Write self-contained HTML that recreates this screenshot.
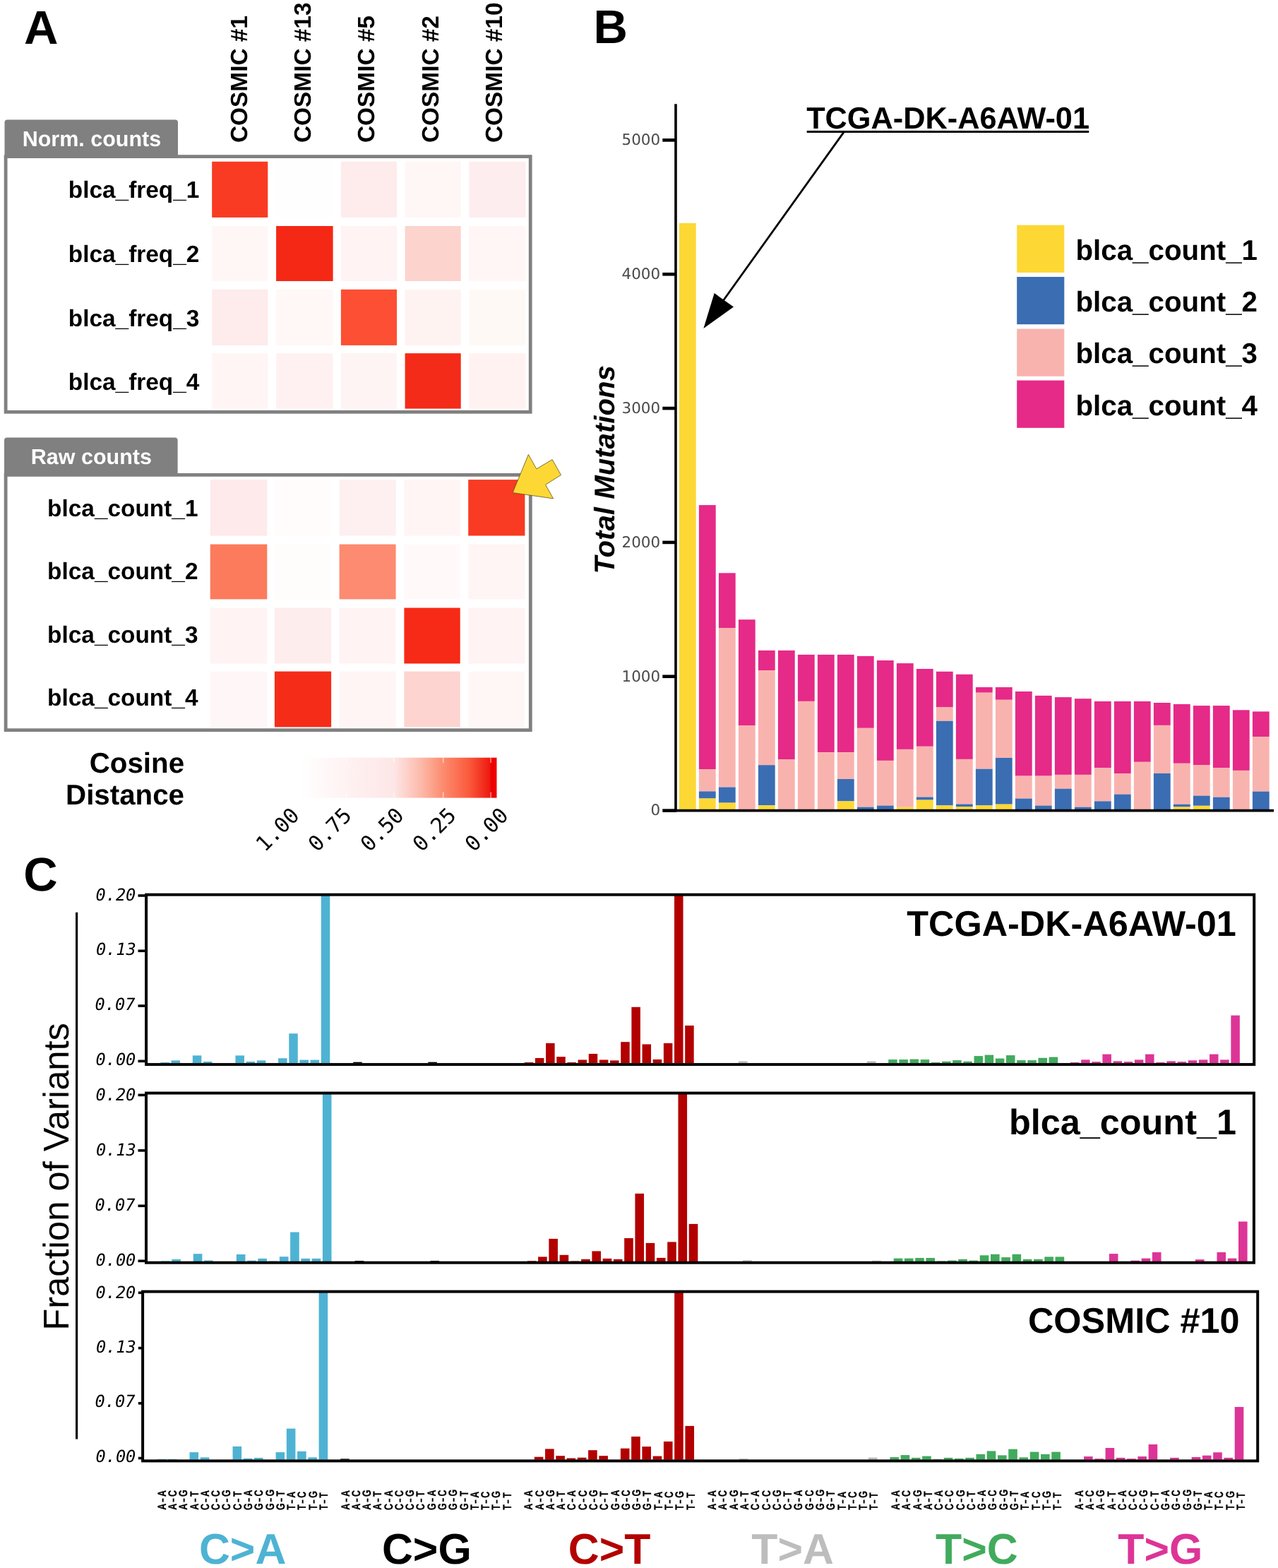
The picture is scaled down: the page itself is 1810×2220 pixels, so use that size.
<!DOCTYPE html>
<html><head><meta charset="utf-8"><title>Figure</title>
<style>html,body{margin:0;padding:0;background:#fff;} svg{display:block;} text{text-rendering:geometricPrecision;}</style>
</head><body>
<svg width="1810" height="2220" viewBox="0 0 1810 2220">
<rect x="0" y="0" width="1810" height="2220" fill="#fff"/>
<text x="34.12" y="61.75" font-family='"Liberation Sans", Arial, sans-serif' font-weight="bold" font-style="normal" font-size="67.00" fill="#000" >A</text>
<text transform="translate(349.90,202.04) rotate(-90)" x="0" y="0" font-family='"Liberation Sans", Arial, sans-serif' font-weight="bold" font-style="normal" font-size="33.40" fill="#000">COSMIC #1</text>
<text transform="translate(440.10,202.04) rotate(-90)" x="0" y="0" font-family='"Liberation Sans", Arial, sans-serif' font-weight="bold" font-style="normal" font-size="33.40" fill="#000">COSMIC #13</text>
<text transform="translate(530.40,202.04) rotate(-90)" x="0" y="0" font-family='"Liberation Sans", Arial, sans-serif' font-weight="bold" font-style="normal" font-size="33.40" fill="#000">COSMIC #5</text>
<text transform="translate(620.80,202.04) rotate(-90)" x="0" y="0" font-family='"Liberation Sans", Arial, sans-serif' font-weight="bold" font-style="normal" font-size="33.40" fill="#000">COSMIC #2</text>
<text transform="translate(711.00,202.04) rotate(-90)" x="0" y="0" font-family='"Liberation Sans", Arial, sans-serif' font-weight="bold" font-style="normal" font-size="33.40" fill="#000">COSMIC #10</text>
<path d="M6.5,221 L6.5,173.6 Q6.5,169.6 10.5,169.6 L248,169.6 Q252,169.6 252,173.6 L252,221 Z" fill="#808080"/>
<text x="31.64" y="206.50" font-family='"Liberation Sans", Arial, sans-serif' font-weight="bold" font-style="normal" font-size="30.50" fill="#fff" >Norm. counts</text>
<rect x="8.10" y="221.60" width="743.10" height="361.70" fill="none" stroke="#808080" stroke-width="4.8"/>
<rect x="300.20" y="228.80" width="79.10" height="79.10" fill="#F83B22" />
<rect x="391.10" y="228.80" width="80.50" height="79.10" fill="#FEFEFE" />
<rect x="482.90" y="228.80" width="79.10" height="79.10" fill="#FEEBEB" />
<rect x="573.60" y="228.80" width="79.10" height="79.10" fill="#FFF7F6" />
<rect x="664.30" y="228.80" width="80.20" height="79.10" fill="#FEEDEE" />
<rect x="300.20" y="320.00" width="79.10" height="78.00" fill="#FFF6F6" />
<rect x="391.10" y="320.00" width="80.50" height="78.00" fill="#F52816" />
<rect x="482.90" y="320.00" width="79.10" height="78.00" fill="#FFF3F3" />
<rect x="573.60" y="320.00" width="79.10" height="78.00" fill="#FDD3CE" />
<rect x="664.30" y="320.00" width="80.20" height="78.00" fill="#FFF6F5" />
<rect x="300.20" y="409.80" width="79.10" height="79.10" fill="#FEEBEC" />
<rect x="391.10" y="409.80" width="80.50" height="79.10" fill="#FFF8F7" />
<rect x="482.90" y="409.80" width="79.10" height="79.10" fill="#FC4F33" />
<rect x="573.60" y="409.80" width="79.10" height="79.10" fill="#FFF3F2" />
<rect x="664.30" y="409.80" width="80.20" height="79.10" fill="#FFF9F6" />
<rect x="300.20" y="500.20" width="79.10" height="78.40" fill="#FFF5F4" />
<rect x="391.10" y="500.20" width="80.50" height="78.40" fill="#FFF1F1" />
<rect x="482.90" y="500.20" width="79.10" height="78.40" fill="#FFF4F4" />
<rect x="573.60" y="500.20" width="79.10" height="78.40" fill="#F42B18" />
<rect x="664.30" y="500.20" width="80.20" height="78.40" fill="#FFF2F1" />
<text x="96.80" y="280.30" font-family='"Liberation Sans", Arial, sans-serif' font-weight="bold" font-style="normal" font-size="33.40" fill="#000">blca_freq_1</text>
<text x="96.80" y="370.90" font-family='"Liberation Sans", Arial, sans-serif' font-weight="bold" font-style="normal" font-size="33.40" fill="#000">blca_freq_2</text>
<text x="96.80" y="461.50" font-family='"Liberation Sans", Arial, sans-serif' font-weight="bold" font-style="normal" font-size="33.40" fill="#000">blca_freq_3</text>
<text x="96.80" y="552.10" font-family='"Liberation Sans", Arial, sans-serif' font-weight="bold" font-style="normal" font-size="33.40" fill="#000">blca_freq_4</text>
<path d="M6.0,671 L6.0,623.6 Q6.0,619.6 10.0,619.6 L247.6,619.6 Q251.6,619.6 251.6,623.6 L251.6,671 Z" fill="#808080"/>
<text x="43.74" y="656.50" font-family='"Liberation Sans", Arial, sans-serif' font-weight="bold" font-style="normal" font-size="30.50" fill="#fff" >Raw counts</text>
<rect x="8.10" y="672.40" width="743.20" height="361.30" fill="none" stroke="#808080" stroke-width="4.8"/>
<rect x="297.70" y="679.10" width="80.60" height="79.40" fill="#FEEAEA" />
<rect x="388.90" y="679.10" width="80.20" height="79.40" fill="#FFFCFB" />
<rect x="480.60" y="679.10" width="80.00" height="79.40" fill="#FEF0F0" />
<rect x="572.40" y="679.10" width="79.30" height="79.40" fill="#FFF5F4" />
<rect x="663.20" y="679.10" width="80.20" height="79.40" fill="#F83B22" />
<rect x="297.70" y="770.60" width="80.60" height="77.80" fill="#FC7B5C" />
<rect x="388.90" y="770.60" width="80.20" height="77.80" fill="#FFFCFC" />
<rect x="480.60" y="770.60" width="80.00" height="77.80" fill="#FC8B71" />
<rect x="572.40" y="770.60" width="79.30" height="77.80" fill="#FFFAF9" />
<rect x="663.20" y="770.60" width="80.20" height="77.80" fill="#FFF5F4" />
<rect x="297.70" y="860.60" width="80.60" height="78.90" fill="#FFF4F3" />
<rect x="388.90" y="860.60" width="80.20" height="78.90" fill="#FDEDEC" />
<rect x="480.60" y="860.60" width="80.00" height="78.90" fill="#FFF3F3" />
<rect x="572.40" y="860.60" width="79.30" height="78.90" fill="#F62A16" />
<rect x="663.20" y="860.60" width="80.20" height="78.90" fill="#FFF3F3" />
<rect x="297.70" y="950.60" width="80.60" height="78.80" fill="#FFF7F7" />
<rect x="388.90" y="950.60" width="80.20" height="78.80" fill="#F52D18" />
<rect x="480.60" y="950.60" width="80.00" height="78.80" fill="#FFF5F5" />
<rect x="572.40" y="950.60" width="79.30" height="78.80" fill="#FDD4CF" />
<rect x="663.20" y="950.60" width="80.20" height="78.80" fill="#FFF7F6" />
<text x="67.09" y="730.60" font-family='"Liberation Sans", Arial, sans-serif' font-weight="bold" font-style="normal" font-size="33.40" fill="#000">blca_count_1</text>
<text x="67.09" y="820.00" font-family='"Liberation Sans", Arial, sans-serif' font-weight="bold" font-style="normal" font-size="33.40" fill="#000">blca_count_2</text>
<text x="67.09" y="909.50" font-family='"Liberation Sans", Arial, sans-serif' font-weight="bold" font-style="normal" font-size="33.40" fill="#000">blca_count_3</text>
<text x="67.09" y="998.90" font-family='"Liberation Sans", Arial, sans-serif' font-weight="bold" font-style="normal" font-size="33.40" fill="#000">blca_count_4</text>
<polygon points="726.1,697.6 748.4,643.5 759.8,663.9 782.2,650.7 794.5,672.5 772.6,686.3 783.6,705.9" fill="#FDD835" stroke="#5a5020" stroke-width="0.8" stroke-linejoin="miter"/>
<text x="126.71" y="1094.40" font-family='"Liberation Sans", Arial, sans-serif' font-weight="bold" font-style="normal" font-size="40.30" fill="#000" >Cosine</text>
<text x="93.06" y="1139.30" font-family='"Liberation Sans", Arial, sans-serif' font-weight="bold" font-style="normal" font-size="40.30" fill="#000" >Distance</text>
<defs><linearGradient id="cbar" x1="424" y1="0" x2="703.5" y2="0" gradientUnits="userSpaceOnUse">
<stop offset="0" stop-color="#FFFFFF"/>
<stop offset="0.06" stop-color="#FFFCFC"/>
<stop offset="0.24" stop-color="#FFF2F2"/>
<stop offset="0.48" stop-color="#FDE6E6"/>
<stop offset="0.62" stop-color="#FCB8A8"/>
<stop offset="0.73" stop-color="#FC8B6E"/>
<stop offset="0.86" stop-color="#FA5A3C"/>
<stop offset="0.965" stop-color="#EE1A10"/>
<stop offset="0.97" stop-color="#EE0000"/>
<stop offset="1" stop-color="#EE0000"/>
</linearGradient></defs>
<rect x="424.00" y="1072.70" width="279.50" height="56.90" fill="url(#cbar)" />
<line x1="490.60" y1="1072.70" x2="490.60" y2="1080.00" stroke="#fff" stroke-width="1.6" stroke-opacity="0.55"/>
<line x1="490.60" y1="1121.50" x2="490.60" y2="1129.60" stroke="#fff" stroke-width="1.6" stroke-opacity="0.55"/>
<line x1="558.00" y1="1072.70" x2="558.00" y2="1080.00" stroke="#fff" stroke-width="1.6" stroke-opacity="0.55"/>
<line x1="558.00" y1="1121.50" x2="558.00" y2="1129.60" stroke="#fff" stroke-width="1.6" stroke-opacity="0.55"/>
<line x1="627.70" y1="1072.70" x2="627.70" y2="1080.00" stroke="#fff" stroke-width="1.6" stroke-opacity="0.55"/>
<line x1="627.70" y1="1121.50" x2="627.70" y2="1129.60" stroke="#fff" stroke-width="1.6" stroke-opacity="0.55"/>
<line x1="695.10" y1="1072.70" x2="695.10" y2="1080.00" stroke="#fff" stroke-width="1.6" stroke-opacity="0.55"/>
<line x1="695.10" y1="1121.50" x2="695.10" y2="1129.60" stroke="#fff" stroke-width="1.6" stroke-opacity="0.55"/>
<text transform="translate(374.95,1207.28) rotate(-45)" x="0" y="0" font-family='"DejaVu Sans Mono", monospace' font-weight="normal" font-style="normal" font-size="29.90" fill="#000">1.00</text>
<text transform="translate(448.95,1207.28) rotate(-45)" x="0" y="0" font-family='"DejaVu Sans Mono", monospace' font-weight="normal" font-style="normal" font-size="29.90" fill="#000">0.75</text>
<text transform="translate(522.95,1207.28) rotate(-45)" x="0" y="0" font-family='"DejaVu Sans Mono", monospace' font-weight="normal" font-style="normal" font-size="29.90" fill="#000">0.50</text>
<text transform="translate(596.95,1207.28) rotate(-45)" x="0" y="0" font-family='"DejaVu Sans Mono", monospace' font-weight="normal" font-style="normal" font-size="29.90" fill="#000">0.25</text>
<text transform="translate(670.95,1207.28) rotate(-45)" x="0" y="0" font-family='"DejaVu Sans Mono", monospace' font-weight="normal" font-style="normal" font-size="29.90" fill="#000">0.00</text>
<text x="840.48" y="61.06" font-family='"Liberation Sans", Arial, sans-serif' font-weight="bold" font-style="normal" font-size="67.00" fill="#000" >B</text>
<rect x="961.90" y="315.90" width="23.80" height="830.70" fill="#FDD835" />
<rect x="989.90" y="715.10" width="23.80" height="373.90" fill="#E52A88" />
<rect x="989.90" y="1089.00" width="23.80" height="31.40" fill="#F9B3AE" />
<rect x="989.90" y="1120.40" width="23.80" height="10.10" fill="#3B6DB3" />
<rect x="989.90" y="1130.50" width="23.80" height="16.10" fill="#FDD835" />
<rect x="1017.90" y="811.30" width="23.80" height="77.80" fill="#E52A88" />
<rect x="1017.90" y="889.10" width="23.80" height="225.40" fill="#F9B3AE" />
<rect x="1017.90" y="1114.50" width="23.80" height="22.10" fill="#3B6DB3" />
<rect x="1017.90" y="1136.60" width="23.80" height="10.00" fill="#FDD835" />
<rect x="1045.90" y="877.20" width="23.80" height="149.80" fill="#E52A88" />
<rect x="1045.90" y="1027.00" width="23.80" height="119.60" fill="#F9B3AE" />
<rect x="1073.90" y="920.90" width="23.80" height="28.10" fill="#E52A88" />
<rect x="1073.90" y="949.00" width="23.80" height="134.20" fill="#F9B3AE" />
<rect x="1073.90" y="1083.20" width="23.80" height="57.00" fill="#3B6DB3" />
<rect x="1073.90" y="1140.20" width="23.80" height="6.40" fill="#FDD835" />
<rect x="1101.90" y="920.90" width="23.80" height="154.10" fill="#E52A88" />
<rect x="1101.90" y="1075.00" width="23.80" height="71.60" fill="#F9B3AE" />
<rect x="1129.90" y="926.90" width="23.80" height="66.00" fill="#E52A88" />
<rect x="1129.90" y="992.90" width="23.80" height="153.70" fill="#F9B3AE" />
<rect x="1157.90" y="926.90" width="23.80" height="138.30" fill="#E52A88" />
<rect x="1157.90" y="1065.20" width="23.80" height="81.40" fill="#F9B3AE" />
<rect x="1185.90" y="926.90" width="23.80" height="138.30" fill="#E52A88" />
<rect x="1185.90" y="1065.20" width="23.80" height="37.80" fill="#F9B3AE" />
<rect x="1185.90" y="1103.00" width="23.80" height="31.40" fill="#3B6DB3" />
<rect x="1185.90" y="1134.40" width="23.80" height="12.20" fill="#FDD835" />
<rect x="1213.90" y="928.90" width="23.80" height="101.90" fill="#E52A88" />
<rect x="1213.90" y="1030.80" width="23.80" height="111.90" fill="#F9B3AE" />
<rect x="1213.90" y="1142.70" width="23.80" height="3.90" fill="#3B6DB3" />
<rect x="1241.90" y="935.00" width="23.80" height="141.90" fill="#E52A88" />
<rect x="1241.90" y="1076.90" width="23.80" height="63.70" fill="#F9B3AE" />
<rect x="1241.90" y="1140.60" width="23.80" height="6.00" fill="#3B6DB3" />
<rect x="1269.90" y="939.10" width="23.80" height="121.80" fill="#E52A88" />
<rect x="1269.90" y="1060.90" width="23.80" height="81.80" fill="#F9B3AE" />
<rect x="1269.90" y="1142.70" width="23.80" height="3.90" fill="#FDD835" />
<rect x="1297.90" y="947.00" width="23.80" height="109.80" fill="#E52A88" />
<rect x="1297.90" y="1056.80" width="23.80" height="71.70" fill="#F9B3AE" />
<rect x="1297.90" y="1128.50" width="23.80" height="4.10" fill="#3B6DB3" />
<rect x="1297.90" y="1132.60" width="23.80" height="14.00" fill="#FDD835" />
<rect x="1325.90" y="950.80" width="23.80" height="50.20" fill="#E52A88" />
<rect x="1325.90" y="1001.00" width="23.80" height="19.80" fill="#F9B3AE" />
<rect x="1325.90" y="1020.80" width="23.80" height="119.60" fill="#3B6DB3" />
<rect x="1325.90" y="1140.40" width="23.80" height="6.20" fill="#FDD835" />
<rect x="1353.90" y="954.80" width="23.80" height="120.10" fill="#E52A88" />
<rect x="1353.90" y="1074.90" width="23.80" height="63.60" fill="#F9B3AE" />
<rect x="1353.90" y="1138.50" width="23.80" height="3.80" fill="#3B6DB3" />
<rect x="1353.90" y="1142.30" width="23.80" height="4.30" fill="#FDD835" />
<rect x="1381.90" y="973.00" width="23.80" height="7.70" fill="#E52A88" />
<rect x="1381.90" y="980.70" width="23.80" height="108.00" fill="#F9B3AE" />
<rect x="1381.90" y="1088.70" width="23.80" height="51.70" fill="#3B6DB3" />
<rect x="1381.90" y="1140.40" width="23.80" height="6.20" fill="#FDD835" />
<rect x="1409.90" y="973.00" width="23.80" height="17.80" fill="#E52A88" />
<rect x="1409.90" y="990.80" width="23.80" height="82.20" fill="#F9B3AE" />
<rect x="1409.90" y="1073.00" width="23.80" height="65.70" fill="#3B6DB3" />
<rect x="1409.90" y="1138.70" width="23.80" height="7.90" fill="#FDD835" />
<rect x="1437.90" y="979.00" width="23.80" height="119.60" fill="#E52A88" />
<rect x="1437.90" y="1098.60" width="23.80" height="32.00" fill="#F9B3AE" />
<rect x="1437.90" y="1130.60" width="23.80" height="16.00" fill="#3B6DB3" />
<rect x="1465.90" y="984.90" width="23.80" height="113.70" fill="#E52A88" />
<rect x="1465.90" y="1098.60" width="23.80" height="42.00" fill="#F9B3AE" />
<rect x="1465.90" y="1140.60" width="23.80" height="6.00" fill="#3B6DB3" />
<rect x="1493.90" y="987.10" width="23.80" height="109.80" fill="#E52A88" />
<rect x="1493.90" y="1096.90" width="23.80" height="19.80" fill="#F9B3AE" />
<rect x="1493.90" y="1116.70" width="23.80" height="29.90" fill="#3B6DB3" />
<rect x="1521.90" y="989.20" width="23.80" height="107.70" fill="#E52A88" />
<rect x="1521.90" y="1096.90" width="23.80" height="45.80" fill="#F9B3AE" />
<rect x="1521.90" y="1142.70" width="23.80" height="3.90" fill="#3B6DB3" />
<rect x="1549.90" y="993.00" width="23.80" height="94.20" fill="#E52A88" />
<rect x="1549.90" y="1087.20" width="23.80" height="47.20" fill="#F9B3AE" />
<rect x="1549.90" y="1134.40" width="23.80" height="12.20" fill="#3B6DB3" />
<rect x="1577.90" y="993.00" width="23.80" height="102.00" fill="#E52A88" />
<rect x="1577.90" y="1095.00" width="23.80" height="29.60" fill="#F9B3AE" />
<rect x="1577.90" y="1124.60" width="23.80" height="22.00" fill="#3B6DB3" />
<rect x="1605.90" y="993.00" width="23.80" height="85.80" fill="#E52A88" />
<rect x="1605.90" y="1078.80" width="23.80" height="67.80" fill="#F9B3AE" />
<rect x="1633.90" y="995.00" width="23.80" height="31.90" fill="#E52A88" />
<rect x="1633.90" y="1026.90" width="23.80" height="68.10" fill="#F9B3AE" />
<rect x="1633.90" y="1095.00" width="23.80" height="51.60" fill="#3B6DB3" />
<rect x="1661.90" y="997.00" width="23.80" height="83.80" fill="#E52A88" />
<rect x="1661.90" y="1080.80" width="23.80" height="57.90" fill="#F9B3AE" />
<rect x="1661.90" y="1138.70" width="23.80" height="3.80" fill="#3B6DB3" />
<rect x="1661.90" y="1142.50" width="23.80" height="4.10" fill="#FDD835" />
<rect x="1689.90" y="999.10" width="23.80" height="84.00" fill="#E52A88" />
<rect x="1689.90" y="1083.10" width="23.80" height="43.50" fill="#F9B3AE" />
<rect x="1689.90" y="1126.60" width="23.80" height="14.20" fill="#3B6DB3" />
<rect x="1689.90" y="1140.80" width="23.80" height="5.80" fill="#FDD835" />
<rect x="1717.90" y="999.10" width="23.80" height="88.10" fill="#E52A88" />
<rect x="1717.90" y="1087.20" width="23.80" height="41.50" fill="#F9B3AE" />
<rect x="1717.90" y="1128.70" width="23.80" height="17.90" fill="#3B6DB3" />
<rect x="1745.90" y="1005.30" width="23.80" height="85.60" fill="#E52A88" />
<rect x="1745.90" y="1090.90" width="23.80" height="55.70" fill="#F9B3AE" />
<rect x="1773.90" y="1007.40" width="23.80" height="35.80" fill="#E52A88" />
<rect x="1773.90" y="1043.20" width="23.80" height="77.40" fill="#F9B3AE" />
<rect x="1773.90" y="1120.60" width="23.80" height="26.00" fill="#3B6DB3" />
<line x1="957.00" y1="147.30" x2="957.00" y2="1149.40" stroke="#000" stroke-width="3.6" />
<line x1="955.20" y1="1147.60" x2="1804.00" y2="1147.60" stroke="#000" stroke-width="3.6" />
<line x1="938.30" y1="1147.60" x2="957.00" y2="1147.60" stroke="#000" stroke-width="4.6" />
<text x="921.54" y="1154.40" font-family='"DejaVu Sans", sans-serif' font-weight="normal" font-style="normal" font-size="21.50" fill="#4a4a4a" >0</text>
<line x1="938.30" y1="957.76" x2="957.00" y2="957.76" stroke="#000" stroke-width="4.6" />
<text x="880.48" y="964.56" font-family='"DejaVu Sans", sans-serif' font-weight="normal" font-style="normal" font-size="21.50" fill="#4a4a4a" >1000</text>
<line x1="938.30" y1="767.92" x2="957.00" y2="767.92" stroke="#000" stroke-width="4.6" />
<text x="880.48" y="774.72" font-family='"DejaVu Sans", sans-serif' font-weight="normal" font-style="normal" font-size="21.50" fill="#4a4a4a" >2000</text>
<line x1="938.30" y1="578.08" x2="957.00" y2="578.08" stroke="#000" stroke-width="4.6" />
<text x="880.48" y="584.88" font-family='"DejaVu Sans", sans-serif' font-weight="normal" font-style="normal" font-size="21.50" fill="#4a4a4a" >3000</text>
<line x1="938.30" y1="388.24" x2="957.00" y2="388.24" stroke="#000" stroke-width="4.6" />
<text x="880.48" y="395.04" font-family='"DejaVu Sans", sans-serif' font-weight="normal" font-style="normal" font-size="21.50" fill="#4a4a4a" >4000</text>
<line x1="938.30" y1="198.40" x2="957.00" y2="198.40" stroke="#000" stroke-width="4.6" />
<text x="880.48" y="205.20" font-family='"DejaVu Sans", sans-serif' font-weight="normal" font-style="normal" font-size="21.50" fill="#4a4a4a" >5000</text>
<text transform="translate(869.70,812.51) rotate(-90)" x="0" y="0" font-family='"Liberation Sans", Arial, sans-serif' font-weight="bold" font-style="italic" font-size="40.20" fill="#000">Total Mutations</text>
<rect x="1440.20" y="318.70" width="67.10" height="67.20" fill="#FDD835" />
<text x="1523.48" y="367.70" font-family='"Liberation Sans", Arial, sans-serif' font-weight="bold" font-style="normal" font-size="40.30" fill="#000" >blca_count_1</text>
<rect x="1440.20" y="392.00" width="67.10" height="67.20" fill="#3B6DB3" />
<text x="1523.48" y="441.00" font-family='"Liberation Sans", Arial, sans-serif' font-weight="bold" font-style="normal" font-size="40.30" fill="#000" >blca_count_2</text>
<rect x="1440.20" y="465.60" width="67.10" height="67.20" fill="#F9B3AE" />
<text x="1523.48" y="514.30" font-family='"Liberation Sans", Arial, sans-serif' font-weight="bold" font-style="normal" font-size="40.30" fill="#000" >blca_count_3</text>
<rect x="1440.20" y="538.60" width="67.10" height="67.20" fill="#E52A88" />
<text x="1523.48" y="587.60" font-family='"Liberation Sans", Arial, sans-serif' font-weight="bold" font-style="normal" font-size="40.30" fill="#000" >blca_count_4</text>
<text x="1142.16" y="181.70" font-family='"Liberation Sans", Arial, sans-serif' font-weight="bold" font-style="normal" font-size="43.30" fill="#000" >TCGA-DK-A6AW-01</text>
<line x1="1142.70" y1="186.50" x2="1542.20" y2="186.50" stroke="#000" stroke-width="3" />
<line x1="1195.40" y1="186.60" x2="1019.00" y2="433.00" stroke="#000" stroke-width="2.8" />
<polygon points="996.4,465 1011.7,415.1 1039,434.4" fill="#000"/>
<text x="33.32" y="1260.50" font-family='"Liberation Sans", Arial, sans-serif' font-weight="bold" font-style="normal" font-size="67.00" fill="#000" >C</text>
<rect x="227.35" y="1504.10" width="12.50" height="0.90" fill="#4EB3D3" />
<rect x="242.51" y="1501.40" width="12.50" height="3.60" fill="#4EB3D3" />
<rect x="272.83" y="1494.40" width="12.50" height="10.60" fill="#4EB3D3" />
<rect x="287.99" y="1503.00" width="12.50" height="2.00" fill="#4EB3D3" />
<rect x="333.47" y="1494.40" width="12.50" height="10.60" fill="#4EB3D3" />
<rect x="348.63" y="1503.00" width="12.50" height="2.00" fill="#4EB3D3" />
<rect x="363.79" y="1501.40" width="12.50" height="3.60" fill="#4EB3D3" />
<rect x="394.11" y="1498.30" width="12.50" height="6.70" fill="#4EB3D3" />
<rect x="409.27" y="1463.30" width="12.50" height="41.70" fill="#4EB3D3" />
<rect x="424.43" y="1500.60" width="12.50" height="4.40" fill="#4EB3D3" />
<rect x="439.59" y="1500.60" width="12.50" height="4.40" fill="#4EB3D3" />
<rect x="454.75" y="1266.70" width="12.50" height="238.30" fill="#4EB3D3" />
<rect x="500.23" y="1503.70" width="12.50" height="1.30" fill="#000000" />
<rect x="606.35" y="1503.70" width="12.50" height="1.30" fill="#000000" />
<rect x="742.79" y="1504.10" width="12.50" height="0.90" fill="#B30000" />
<rect x="757.95" y="1498.00" width="12.50" height="7.00" fill="#B30000" />
<rect x="773.11" y="1477.00" width="12.50" height="28.00" fill="#B30000" />
<rect x="788.27" y="1496.20" width="12.50" height="8.80" fill="#B30000" />
<rect x="803.43" y="1504.10" width="12.50" height="0.90" fill="#B30000" />
<rect x="818.59" y="1500.50" width="12.50" height="4.50" fill="#B30000" />
<rect x="833.75" y="1492.00" width="12.50" height="13.00" fill="#B30000" />
<rect x="848.91" y="1500.50" width="12.50" height="4.50" fill="#B30000" />
<rect x="864.07" y="1501.40" width="12.50" height="3.60" fill="#B30000" />
<rect x="879.23" y="1475.20" width="12.50" height="29.80" fill="#B30000" />
<rect x="894.39" y="1425.80" width="12.50" height="79.20" fill="#B30000" />
<rect x="909.55" y="1478.50" width="12.50" height="26.50" fill="#B30000" />
<rect x="924.71" y="1500.00" width="12.50" height="5.00" fill="#B30000" />
<rect x="939.87" y="1477.00" width="12.50" height="28.00" fill="#B30000" />
<rect x="955.03" y="1266.70" width="12.50" height="238.30" fill="#B30000" />
<rect x="970.19" y="1452.00" width="12.50" height="53.00" fill="#B30000" />
<rect x="1045.99" y="1502.40" width="12.50" height="2.60" fill="#BDBDBD" />
<rect x="1227.91" y="1502.40" width="12.50" height="2.60" fill="#BDBDBD" />
<rect x="1258.23" y="1500.10" width="12.50" height="4.90" fill="#41AB5D" />
<rect x="1273.39" y="1500.10" width="12.50" height="4.90" fill="#41AB5D" />
<rect x="1288.55" y="1499.60" width="12.50" height="5.40" fill="#41AB5D" />
<rect x="1303.71" y="1500.10" width="12.50" height="4.90" fill="#41AB5D" />
<rect x="1318.87" y="1504.10" width="12.50" height="0.90" fill="#41AB5D" />
<rect x="1334.03" y="1502.80" width="12.50" height="2.20" fill="#41AB5D" />
<rect x="1349.19" y="1501.10" width="12.50" height="3.90" fill="#41AB5D" />
<rect x="1364.35" y="1502.80" width="12.50" height="2.20" fill="#41AB5D" />
<rect x="1379.51" y="1495.10" width="12.50" height="9.90" fill="#41AB5D" />
<rect x="1394.67" y="1493.60" width="12.50" height="11.40" fill="#41AB5D" />
<rect x="1409.83" y="1498.60" width="12.50" height="6.40" fill="#41AB5D" />
<rect x="1424.99" y="1494.10" width="12.50" height="10.90" fill="#41AB5D" />
<rect x="1440.15" y="1501.10" width="12.50" height="3.90" fill="#41AB5D" />
<rect x="1455.31" y="1501.10" width="12.50" height="3.90" fill="#41AB5D" />
<rect x="1470.47" y="1497.80" width="12.50" height="7.20" fill="#41AB5D" />
<rect x="1485.63" y="1496.60" width="12.50" height="8.40" fill="#41AB5D" />
<rect x="1515.95" y="1504.10" width="12.50" height="0.90" fill="#DD3497" />
<rect x="1531.11" y="1500.40" width="12.50" height="4.60" fill="#DD3497" />
<rect x="1546.27" y="1503.20" width="12.50" height="1.80" fill="#DD3497" />
<rect x="1561.43" y="1492.60" width="12.50" height="12.40" fill="#DD3497" />
<rect x="1576.59" y="1502.40" width="12.50" height="2.60" fill="#DD3497" />
<rect x="1591.75" y="1503.20" width="12.50" height="1.80" fill="#DD3497" />
<rect x="1606.91" y="1500.40" width="12.50" height="4.60" fill="#DD3497" />
<rect x="1622.07" y="1492.60" width="12.50" height="12.40" fill="#DD3497" />
<rect x="1637.23" y="1504.10" width="12.50" height="0.90" fill="#DD3497" />
<rect x="1652.39" y="1502.40" width="12.50" height="2.60" fill="#DD3497" />
<rect x="1667.55" y="1503.20" width="12.50" height="1.80" fill="#DD3497" />
<rect x="1682.71" y="1501.30" width="12.50" height="3.70" fill="#DD3497" />
<rect x="1697.87" y="1500.40" width="12.50" height="4.60" fill="#DD3497" />
<rect x="1713.03" y="1492.60" width="12.50" height="12.40" fill="#DD3497" />
<rect x="1728.19" y="1500.40" width="12.50" height="4.60" fill="#DD3497" />
<rect x="1743.35" y="1437.60" width="12.50" height="67.40" fill="#DD3497" />
<rect x="207.10" y="1266.70" width="1569.10" height="240.40" fill="none" stroke="#000" stroke-width="4"/>
<line x1="195.50" y1="1268.00" x2="205.30" y2="1268.00" stroke="#000" stroke-width="3.6" />
<text x="135.50" y="1274.50" font-family='"DejaVu Sans Mono", monospace' font-weight="normal" font-style="italic" font-size="23.60" fill="#000" >0.20</text>
<line x1="195.50" y1="1346.30" x2="205.30" y2="1346.30" stroke="#000" stroke-width="3.6" />
<text x="135.92" y="1352.25" font-family='"DejaVu Sans Mono", monospace' font-weight="normal" font-style="italic" font-size="23.60" fill="#000" >0.13</text>
<line x1="195.50" y1="1424.10" x2="205.30" y2="1424.10" stroke="#000" stroke-width="3.6" />
<text x="134.62" y="1430.15" font-family='"DejaVu Sans Mono", monospace' font-weight="normal" font-style="italic" font-size="23.60" fill="#000" >0.07</text>
<line x1="195.50" y1="1502.40" x2="205.30" y2="1502.40" stroke="#000" stroke-width="3.6" />
<text x="135.50" y="1507.85" font-family='"DejaVu Sans Mono", monospace' font-weight="normal" font-style="italic" font-size="23.60" fill="#000" >0.00</text>
<text x="1284.31" y="1325.40" font-family='"Liberation Sans", Arial, sans-serif' font-weight="bold" font-style="normal" font-size="50.40" fill="#000" >TCGA-DK-A6AW-01</text>
<rect x="228.00" y="1785.50" width="12.60" height="0.90" fill="#4EB3D3" />
<rect x="243.26" y="1783.00" width="12.60" height="3.40" fill="#4EB3D3" />
<rect x="273.78" y="1775.20" width="12.60" height="11.20" fill="#4EB3D3" />
<rect x="289.04" y="1784.50" width="12.60" height="1.90" fill="#4EB3D3" />
<rect x="334.82" y="1776.00" width="12.60" height="10.40" fill="#4EB3D3" />
<rect x="350.08" y="1784.70" width="12.60" height="1.70" fill="#4EB3D3" />
<rect x="365.34" y="1781.90" width="12.60" height="4.50" fill="#4EB3D3" />
<rect x="380.60" y="1785.50" width="12.60" height="0.90" fill="#4EB3D3" />
<rect x="395.86" y="1779.20" width="12.60" height="7.20" fill="#4EB3D3" />
<rect x="411.12" y="1744.50" width="12.60" height="41.90" fill="#4EB3D3" />
<rect x="426.38" y="1781.90" width="12.60" height="4.50" fill="#4EB3D3" />
<rect x="441.64" y="1781.90" width="12.60" height="4.50" fill="#4EB3D3" />
<rect x="456.90" y="1547.60" width="12.60" height="238.80" fill="#4EB3D3" />
<rect x="502.68" y="1785.10" width="12.60" height="1.30" fill="#000000" />
<rect x="609.50" y="1785.10" width="12.60" height="1.30" fill="#000000" />
<rect x="746.84" y="1785.30" width="12.60" height="1.10" fill="#B30000" />
<rect x="762.10" y="1779.40" width="12.60" height="7.00" fill="#B30000" />
<rect x="777.36" y="1753.90" width="12.60" height="32.50" fill="#B30000" />
<rect x="792.62" y="1776.80" width="12.60" height="9.60" fill="#B30000" />
<rect x="807.88" y="1785.50" width="12.60" height="0.90" fill="#B30000" />
<rect x="823.14" y="1782.80" width="12.60" height="3.60" fill="#B30000" />
<rect x="838.40" y="1771.40" width="12.60" height="15.00" fill="#B30000" />
<rect x="853.66" y="1781.90" width="12.60" height="4.50" fill="#B30000" />
<rect x="868.92" y="1782.80" width="12.60" height="3.60" fill="#B30000" />
<rect x="884.18" y="1753.00" width="12.60" height="33.40" fill="#B30000" />
<rect x="899.44" y="1689.90" width="12.60" height="96.50" fill="#B30000" />
<rect x="914.70" y="1759.90" width="12.60" height="26.50" fill="#B30000" />
<rect x="929.96" y="1780.90" width="12.60" height="5.50" fill="#B30000" />
<rect x="945.22" y="1758.40" width="12.60" height="28.00" fill="#B30000" />
<rect x="960.48" y="1547.60" width="12.60" height="238.80" fill="#B30000" />
<rect x="975.74" y="1732.90" width="12.60" height="53.50" fill="#B30000" />
<rect x="1052.04" y="1784.30" width="12.60" height="2.10" fill="#BDBDBD" />
<rect x="1235.16" y="1784.80" width="12.60" height="1.60" fill="#BDBDBD" />
<rect x="1265.68" y="1781.60" width="12.60" height="4.80" fill="#41AB5D" />
<rect x="1280.94" y="1781.60" width="12.60" height="4.80" fill="#41AB5D" />
<rect x="1296.20" y="1781.00" width="12.60" height="5.40" fill="#41AB5D" />
<rect x="1311.46" y="1781.00" width="12.60" height="5.40" fill="#41AB5D" />
<rect x="1326.72" y="1785.50" width="12.60" height="0.90" fill="#41AB5D" />
<rect x="1341.98" y="1784.60" width="12.60" height="1.80" fill="#41AB5D" />
<rect x="1357.24" y="1782.80" width="12.60" height="3.60" fill="#41AB5D" />
<rect x="1372.50" y="1784.60" width="12.60" height="1.80" fill="#41AB5D" />
<rect x="1387.76" y="1777.30" width="12.60" height="9.10" fill="#41AB5D" />
<rect x="1403.02" y="1775.80" width="12.60" height="10.60" fill="#41AB5D" />
<rect x="1418.28" y="1780.10" width="12.60" height="6.30" fill="#41AB5D" />
<rect x="1433.54" y="1775.80" width="12.60" height="10.60" fill="#41AB5D" />
<rect x="1448.80" y="1782.80" width="12.60" height="3.60" fill="#41AB5D" />
<rect x="1464.06" y="1782.80" width="12.60" height="3.60" fill="#41AB5D" />
<rect x="1479.32" y="1779.40" width="12.60" height="7.00" fill="#41AB5D" />
<rect x="1494.58" y="1779.40" width="12.60" height="7.00" fill="#41AB5D" />
<rect x="1570.88" y="1775.10" width="12.60" height="11.30" fill="#DD3497" />
<rect x="1601.40" y="1784.70" width="12.60" height="1.70" fill="#DD3497" />
<rect x="1616.66" y="1781.60" width="12.60" height="4.80" fill="#DD3497" />
<rect x="1631.92" y="1773.00" width="12.60" height="13.40" fill="#DD3497" />
<rect x="1692.96" y="1783.20" width="12.60" height="3.20" fill="#DD3497" />
<rect x="1723.48" y="1773.00" width="12.60" height="13.40" fill="#DD3497" />
<rect x="1738.74" y="1781.60" width="12.60" height="4.80" fill="#DD3497" />
<rect x="1754.00" y="1729.50" width="12.60" height="56.90" fill="#DD3497" />
<rect x="207.00" y="1547.60" width="1568.90" height="240.10" fill="none" stroke="#000" stroke-width="4"/>
<line x1="195.50" y1="1550.40" x2="205.30" y2="1550.40" stroke="#000" stroke-width="3.6" />
<text x="135.50" y="1558.15" font-family='"DejaVu Sans Mono", monospace' font-weight="normal" font-style="italic" font-size="23.60" fill="#000" >0.20</text>
<line x1="195.50" y1="1628.90" x2="205.30" y2="1628.90" stroke="#000" stroke-width="3.6" />
<text x="135.92" y="1635.55" font-family='"DejaVu Sans Mono", monospace' font-weight="normal" font-style="italic" font-size="23.60" fill="#000" >0.13</text>
<line x1="195.50" y1="1707.30" x2="205.30" y2="1707.30" stroke="#000" stroke-width="3.6" />
<text x="134.62" y="1713.55" font-family='"DejaVu Sans Mono", monospace' font-weight="normal" font-style="italic" font-size="23.60" fill="#000" >0.07</text>
<line x1="195.50" y1="1785.30" x2="205.30" y2="1785.30" stroke="#000" stroke-width="3.6" />
<text x="135.50" y="1791.55" font-family='"DejaVu Sans Mono", monospace' font-weight="normal" font-style="italic" font-size="23.60" fill="#000" >0.00</text>
<text x="1428.93" y="1606.20" font-family='"Liberation Sans", Arial, sans-serif' font-weight="bold" font-style="normal" font-size="50.40" fill="#000" >blca_count_1</text>
<rect x="222.70" y="2065.80" width="12.60" height="0.90" fill="#4EB3D3" />
<rect x="237.96" y="2065.80" width="12.60" height="0.90" fill="#4EB3D3" />
<rect x="268.48" y="2056.10" width="12.60" height="10.60" fill="#4EB3D3" />
<rect x="283.74" y="2063.40" width="12.60" height="3.30" fill="#4EB3D3" />
<rect x="329.52" y="2047.90" width="12.60" height="18.80" fill="#4EB3D3" />
<rect x="344.78" y="2064.80" width="12.60" height="1.90" fill="#4EB3D3" />
<rect x="360.04" y="2064.00" width="12.60" height="2.70" fill="#4EB3D3" />
<rect x="390.56" y="2056.10" width="12.60" height="10.60" fill="#4EB3D3" />
<rect x="405.82" y="2022.60" width="12.60" height="44.10" fill="#4EB3D3" />
<rect x="421.08" y="2054.80" width="12.60" height="11.90" fill="#4EB3D3" />
<rect x="436.34" y="2063.40" width="12.60" height="3.30" fill="#4EB3D3" />
<rect x="451.60" y="1828.65" width="12.60" height="238.05" fill="#4EB3D3" />
<rect x="482.12" y="2065.40" width="12.60" height="1.30" fill="#000000" />
<rect x="756.80" y="2062.70" width="12.60" height="4.00" fill="#B30000" />
<rect x="772.06" y="2051.40" width="12.60" height="15.30" fill="#B30000" />
<rect x="787.32" y="2061.20" width="12.60" height="5.50" fill="#B30000" />
<rect x="802.58" y="2064.50" width="12.60" height="2.20" fill="#B30000" />
<rect x="817.84" y="2063.70" width="12.60" height="3.00" fill="#B30000" />
<rect x="833.10" y="2053.20" width="12.60" height="13.50" fill="#B30000" />
<rect x="848.36" y="2061.20" width="12.60" height="5.50" fill="#B30000" />
<rect x="878.88" y="2050.70" width="12.60" height="16.00" fill="#B30000" />
<rect x="894.14" y="2033.90" width="12.60" height="32.80" fill="#B30000" />
<rect x="909.40" y="2048.10" width="12.60" height="18.60" fill="#B30000" />
<rect x="924.66" y="2061.60" width="12.60" height="5.10" fill="#B30000" />
<rect x="939.92" y="2040.90" width="12.60" height="25.80" fill="#B30000" />
<rect x="955.18" y="1828.65" width="12.60" height="238.05" fill="#B30000" />
<rect x="970.44" y="2018.90" width="12.60" height="47.80" fill="#B30000" />
<rect x="1046.74" y="2065.10" width="12.60" height="1.60" fill="#BDBDBD" />
<rect x="1229.86" y="2063.60" width="12.60" height="3.10" fill="#BDBDBD" />
<rect x="1260.38" y="2063.10" width="12.60" height="3.60" fill="#41AB5D" />
<rect x="1275.64" y="2060.10" width="12.60" height="6.60" fill="#41AB5D" />
<rect x="1290.90" y="2063.90" width="12.60" height="2.80" fill="#41AB5D" />
<rect x="1306.16" y="2061.60" width="12.60" height="5.10" fill="#41AB5D" />
<rect x="1321.42" y="2065.80" width="12.60" height="0.90" fill="#41AB5D" />
<rect x="1336.68" y="2063.90" width="12.60" height="2.80" fill="#41AB5D" />
<rect x="1351.94" y="2064.90" width="12.60" height="1.80" fill="#41AB5D" />
<rect x="1367.20" y="2063.90" width="12.60" height="2.80" fill="#41AB5D" />
<rect x="1382.46" y="2058.90" width="12.60" height="7.80" fill="#41AB5D" />
<rect x="1397.72" y="2054.40" width="12.60" height="12.30" fill="#41AB5D" />
<rect x="1412.98" y="2060.40" width="12.60" height="6.30" fill="#41AB5D" />
<rect x="1428.24" y="2051.70" width="12.60" height="15.00" fill="#41AB5D" />
<rect x="1443.50" y="2063.40" width="12.60" height="3.30" fill="#41AB5D" />
<rect x="1458.76" y="2055.60" width="12.60" height="11.10" fill="#41AB5D" />
<rect x="1474.02" y="2058.90" width="12.60" height="7.80" fill="#41AB5D" />
<rect x="1489.28" y="2055.60" width="12.60" height="11.10" fill="#41AB5D" />
<rect x="1535.06" y="2062.10" width="12.60" height="4.60" fill="#DD3497" />
<rect x="1550.32" y="2065.20" width="12.60" height="1.50" fill="#DD3497" />
<rect x="1565.58" y="2050.00" width="12.60" height="16.70" fill="#DD3497" />
<rect x="1580.84" y="2063.90" width="12.60" height="2.80" fill="#DD3497" />
<rect x="1596.10" y="2065.20" width="12.60" height="1.50" fill="#DD3497" />
<rect x="1611.36" y="2062.10" width="12.60" height="4.60" fill="#DD3497" />
<rect x="1626.62" y="2045.00" width="12.60" height="21.70" fill="#DD3497" />
<rect x="1657.14" y="2063.90" width="12.60" height="2.80" fill="#DD3497" />
<rect x="1687.66" y="2063.00" width="12.60" height="3.70" fill="#DD3497" />
<rect x="1702.92" y="2060.70" width="12.60" height="6.00" fill="#DD3497" />
<rect x="1718.18" y="2056.30" width="12.60" height="10.40" fill="#DD3497" />
<rect x="1733.44" y="2063.90" width="12.60" height="2.80" fill="#DD3497" />
<rect x="1748.70" y="1992.00" width="12.60" height="74.70" fill="#DD3497" />
<rect x="202.10" y="1828.65" width="1579.10" height="239.75" fill="none" stroke="#000" stroke-width="4"/>
<line x1="195.80" y1="1830.30" x2="201.70" y2="1830.30" stroke="#000" stroke-width="3.6" />
<text x="135.50" y="1837.85" font-family='"DejaVu Sans Mono", monospace' font-weight="normal" font-style="italic" font-size="23.60" fill="#000" >0.20</text>
<line x1="195.80" y1="1908.60" x2="201.70" y2="1908.60" stroke="#000" stroke-width="3.6" />
<text x="135.92" y="1915.45" font-family='"DejaVu Sans Mono", monospace' font-weight="normal" font-style="italic" font-size="23.60" fill="#000" >0.13</text>
<line x1="195.80" y1="1986.80" x2="201.70" y2="1986.80" stroke="#000" stroke-width="3.6" />
<text x="134.62" y="1992.45" font-family='"DejaVu Sans Mono", monospace' font-weight="normal" font-style="italic" font-size="23.60" fill="#000" >0.07</text>
<line x1="195.80" y1="2064.50" x2="201.70" y2="2064.50" stroke="#000" stroke-width="3.6" />
<text x="135.50" y="2070.05" font-family='"DejaVu Sans Mono", monospace' font-weight="normal" font-style="italic" font-size="23.60" fill="#000" >0.00</text>
<text x="1455.99" y="1887.10" font-family='"Liberation Sans", Arial, sans-serif' font-weight="bold" font-style="normal" font-size="50.40" fill="#000" >COSMIC #10</text>
<text transform="translate(97.10,1883.78) rotate(-90)" x="0" y="0" font-family='"Liberation Sans", Arial, sans-serif' font-weight="normal" font-style="normal" font-size="50.70" fill="#000">Fraction of Variants</text>
<line x1="108.60" y1="1291.80" x2="108.60" y2="2037.60" stroke="#000" stroke-width="3.2" />
<text transform="translate(234.69,2137.81) rotate(-90) scale(0.75,1)" x="0" y="0" stroke="#000" stroke-width="0.3" font-family='"Liberation Sans", Arial, sans-serif' font-weight="bold" font-style="normal" font-size="16.70" fill="#000">A<tspan dx="1.98" textLength="8.63" lengthAdjust="spacingAndGlyphs" stroke="none">-</tspan><tspan dx="2.52">A</tspan></text>
<text transform="translate(249.98,2137.81) rotate(-90) scale(0.75,1)" x="0" y="0" stroke="#000" stroke-width="0.3" font-family='"Liberation Sans", Arial, sans-serif' font-weight="bold" font-style="normal" font-size="16.70" fill="#000">A<tspan dx="1.98" textLength="8.63" lengthAdjust="spacingAndGlyphs" stroke="none">-</tspan><tspan dx="2.52">C</tspan></text>
<text transform="translate(265.26,2137.81) rotate(-90) scale(0.75,1)" x="0" y="0" stroke="#000" stroke-width="0.3" font-family='"Liberation Sans", Arial, sans-serif' font-weight="bold" font-style="normal" font-size="16.70" fill="#000">A<tspan dx="1.98" textLength="8.63" lengthAdjust="spacingAndGlyphs" stroke="none">-</tspan><tspan dx="2.52">G</tspan></text>
<text transform="translate(280.54,2137.81) rotate(-90) scale(0.75,1)" x="0" y="0" stroke="#000" stroke-width="0.3" font-family='"Liberation Sans", Arial, sans-serif' font-weight="bold" font-style="normal" font-size="16.70" fill="#000">A<tspan dx="1.98" textLength="8.63" lengthAdjust="spacingAndGlyphs" stroke="none">-</tspan><tspan dx="2.52">T</tspan></text>
<text transform="translate(295.83,2138.00) rotate(-90) scale(0.75,1)" x="0" y="0" stroke="#000" stroke-width="0.3" font-family='"Liberation Sans", Arial, sans-serif' font-weight="bold" font-style="normal" font-size="16.70" fill="#000">C<tspan dx="1.98" textLength="8.63" lengthAdjust="spacingAndGlyphs" stroke="none">-</tspan><tspan dx="2.52">A</tspan></text>
<text transform="translate(311.11,2138.00) rotate(-90) scale(0.75,1)" x="0" y="0" stroke="#000" stroke-width="0.3" font-family='"Liberation Sans", Arial, sans-serif' font-weight="bold" font-style="normal" font-size="16.70" fill="#000">C<tspan dx="1.98" textLength="8.63" lengthAdjust="spacingAndGlyphs" stroke="none">-</tspan><tspan dx="2.52">C</tspan></text>
<text transform="translate(326.39,2138.00) rotate(-90) scale(0.75,1)" x="0" y="0" stroke="#000" stroke-width="0.3" font-family='"Liberation Sans", Arial, sans-serif' font-weight="bold" font-style="normal" font-size="16.70" fill="#000">C<tspan dx="1.98" textLength="8.63" lengthAdjust="spacingAndGlyphs" stroke="none">-</tspan><tspan dx="2.52">G</tspan></text>
<text transform="translate(341.68,2138.00) rotate(-90) scale(0.75,1)" x="0" y="0" stroke="#000" stroke-width="0.3" font-family='"Liberation Sans", Arial, sans-serif' font-weight="bold" font-style="normal" font-size="16.70" fill="#000">C<tspan dx="1.98" textLength="8.63" lengthAdjust="spacingAndGlyphs" stroke="none">-</tspan><tspan dx="2.52">T</tspan></text>
<text transform="translate(356.96,2138.00) rotate(-90) scale(0.75,1)" x="0" y="0" stroke="#000" stroke-width="0.3" font-family='"Liberation Sans", Arial, sans-serif' font-weight="bold" font-style="normal" font-size="16.70" fill="#000">G<tspan dx="1.98" textLength="8.63" lengthAdjust="spacingAndGlyphs" stroke="none">-</tspan><tspan dx="2.52">A</tspan></text>
<text transform="translate(372.24,2138.00) rotate(-90) scale(0.75,1)" x="0" y="0" stroke="#000" stroke-width="0.3" font-family='"Liberation Sans", Arial, sans-serif' font-weight="bold" font-style="normal" font-size="16.70" fill="#000">G<tspan dx="1.98" textLength="8.63" lengthAdjust="spacingAndGlyphs" stroke="none">-</tspan><tspan dx="2.52">C</tspan></text>
<text transform="translate(387.52,2138.00) rotate(-90) scale(0.75,1)" x="0" y="0" stroke="#000" stroke-width="0.3" font-family='"Liberation Sans", Arial, sans-serif' font-weight="bold" font-style="normal" font-size="16.70" fill="#000">G<tspan dx="1.98" textLength="8.63" lengthAdjust="spacingAndGlyphs" stroke="none">-</tspan><tspan dx="2.52">G</tspan></text>
<text transform="translate(402.81,2138.00) rotate(-90) scale(0.75,1)" x="0" y="0" stroke="#000" stroke-width="0.3" font-family='"Liberation Sans", Arial, sans-serif' font-weight="bold" font-style="normal" font-size="16.70" fill="#000">G<tspan dx="1.98" textLength="8.63" lengthAdjust="spacingAndGlyphs" stroke="none">-</tspan><tspan dx="2.52">T</tspan></text>
<text transform="translate(418.09,2137.66) rotate(-90) scale(0.75,1)" x="0" y="0" stroke="#000" stroke-width="0.3" font-family='"Liberation Sans", Arial, sans-serif' font-weight="bold" font-style="normal" font-size="16.70" fill="#000">T<tspan dx="1.98" textLength="8.63" lengthAdjust="spacingAndGlyphs" stroke="none">-</tspan><tspan dx="2.52">A</tspan></text>
<text transform="translate(433.37,2137.66) rotate(-90) scale(0.75,1)" x="0" y="0" stroke="#000" stroke-width="0.3" font-family='"Liberation Sans", Arial, sans-serif' font-weight="bold" font-style="normal" font-size="16.70" fill="#000">T<tspan dx="1.98" textLength="8.63" lengthAdjust="spacingAndGlyphs" stroke="none">-</tspan><tspan dx="2.52">C</tspan></text>
<text transform="translate(448.66,2137.66) rotate(-90) scale(0.75,1)" x="0" y="0" stroke="#000" stroke-width="0.3" font-family='"Liberation Sans", Arial, sans-serif' font-weight="bold" font-style="normal" font-size="16.70" fill="#000">T<tspan dx="1.98" textLength="8.63" lengthAdjust="spacingAndGlyphs" stroke="none">-</tspan><tspan dx="2.52">G</tspan></text>
<text transform="translate(463.94,2137.66) rotate(-90) scale(0.75,1)" x="0" y="0" stroke="#000" stroke-width="0.3" font-family='"Liberation Sans", Arial, sans-serif' font-weight="bold" font-style="normal" font-size="16.70" fill="#000">T<tspan dx="1.98" textLength="8.63" lengthAdjust="spacingAndGlyphs" stroke="none">-</tspan><tspan dx="2.52">T</tspan></text>
<text transform="translate(494.51,2137.81) rotate(-90) scale(0.75,1)" x="0" y="0" stroke="#000" stroke-width="0.3" font-family='"Liberation Sans", Arial, sans-serif' font-weight="bold" font-style="normal" font-size="16.70" fill="#000">A<tspan dx="1.98" textLength="8.63" lengthAdjust="spacingAndGlyphs" stroke="none">-</tspan><tspan dx="2.52">A</tspan></text>
<text transform="translate(509.79,2137.81) rotate(-90) scale(0.75,1)" x="0" y="0" stroke="#000" stroke-width="0.3" font-family='"Liberation Sans", Arial, sans-serif' font-weight="bold" font-style="normal" font-size="16.70" fill="#000">A<tspan dx="1.98" textLength="8.63" lengthAdjust="spacingAndGlyphs" stroke="none">-</tspan><tspan dx="2.52">C</tspan></text>
<text transform="translate(525.07,2137.81) rotate(-90) scale(0.75,1)" x="0" y="0" stroke="#000" stroke-width="0.3" font-family='"Liberation Sans", Arial, sans-serif' font-weight="bold" font-style="normal" font-size="16.70" fill="#000">A<tspan dx="1.98" textLength="8.63" lengthAdjust="spacingAndGlyphs" stroke="none">-</tspan><tspan dx="2.52">G</tspan></text>
<text transform="translate(540.35,2137.81) rotate(-90) scale(0.75,1)" x="0" y="0" stroke="#000" stroke-width="0.3" font-family='"Liberation Sans", Arial, sans-serif' font-weight="bold" font-style="normal" font-size="16.70" fill="#000">A<tspan dx="1.98" textLength="8.63" lengthAdjust="spacingAndGlyphs" stroke="none">-</tspan><tspan dx="2.52">T</tspan></text>
<text transform="translate(555.64,2138.00) rotate(-90) scale(0.75,1)" x="0" y="0" stroke="#000" stroke-width="0.3" font-family='"Liberation Sans", Arial, sans-serif' font-weight="bold" font-style="normal" font-size="16.70" fill="#000">C<tspan dx="1.98" textLength="8.63" lengthAdjust="spacingAndGlyphs" stroke="none">-</tspan><tspan dx="2.52">A</tspan></text>
<text transform="translate(570.92,2138.00) rotate(-90) scale(0.75,1)" x="0" y="0" stroke="#000" stroke-width="0.3" font-family='"Liberation Sans", Arial, sans-serif' font-weight="bold" font-style="normal" font-size="16.70" fill="#000">C<tspan dx="1.98" textLength="8.63" lengthAdjust="spacingAndGlyphs" stroke="none">-</tspan><tspan dx="2.52">C</tspan></text>
<text transform="translate(586.20,2138.00) rotate(-90) scale(0.75,1)" x="0" y="0" stroke="#000" stroke-width="0.3" font-family='"Liberation Sans", Arial, sans-serif' font-weight="bold" font-style="normal" font-size="16.70" fill="#000">C<tspan dx="1.98" textLength="8.63" lengthAdjust="spacingAndGlyphs" stroke="none">-</tspan><tspan dx="2.52">G</tspan></text>
<text transform="translate(601.49,2138.00) rotate(-90) scale(0.75,1)" x="0" y="0" stroke="#000" stroke-width="0.3" font-family='"Liberation Sans", Arial, sans-serif' font-weight="bold" font-style="normal" font-size="16.70" fill="#000">C<tspan dx="1.98" textLength="8.63" lengthAdjust="spacingAndGlyphs" stroke="none">-</tspan><tspan dx="2.52">T</tspan></text>
<text transform="translate(616.77,2138.00) rotate(-90) scale(0.75,1)" x="0" y="0" stroke="#000" stroke-width="0.3" font-family='"Liberation Sans", Arial, sans-serif' font-weight="bold" font-style="normal" font-size="16.70" fill="#000">G<tspan dx="1.98" textLength="8.63" lengthAdjust="spacingAndGlyphs" stroke="none">-</tspan><tspan dx="2.52">A</tspan></text>
<text transform="translate(632.05,2138.00) rotate(-90) scale(0.75,1)" x="0" y="0" stroke="#000" stroke-width="0.3" font-family='"Liberation Sans", Arial, sans-serif' font-weight="bold" font-style="normal" font-size="16.70" fill="#000">G<tspan dx="1.98" textLength="8.63" lengthAdjust="spacingAndGlyphs" stroke="none">-</tspan><tspan dx="2.52">C</tspan></text>
<text transform="translate(647.34,2138.00) rotate(-90) scale(0.75,1)" x="0" y="0" stroke="#000" stroke-width="0.3" font-family='"Liberation Sans", Arial, sans-serif' font-weight="bold" font-style="normal" font-size="16.70" fill="#000">G<tspan dx="1.98" textLength="8.63" lengthAdjust="spacingAndGlyphs" stroke="none">-</tspan><tspan dx="2.52">G</tspan></text>
<text transform="translate(662.62,2138.00) rotate(-90) scale(0.75,1)" x="0" y="0" stroke="#000" stroke-width="0.3" font-family='"Liberation Sans", Arial, sans-serif' font-weight="bold" font-style="normal" font-size="16.70" fill="#000">G<tspan dx="1.98" textLength="8.63" lengthAdjust="spacingAndGlyphs" stroke="none">-</tspan><tspan dx="2.52">T</tspan></text>
<text transform="translate(677.90,2137.66) rotate(-90) scale(0.75,1)" x="0" y="0" stroke="#000" stroke-width="0.3" font-family='"Liberation Sans", Arial, sans-serif' font-weight="bold" font-style="normal" font-size="16.70" fill="#000">T<tspan dx="1.98" textLength="8.63" lengthAdjust="spacingAndGlyphs" stroke="none">-</tspan><tspan dx="2.52">A</tspan></text>
<text transform="translate(693.18,2137.66) rotate(-90) scale(0.75,1)" x="0" y="0" stroke="#000" stroke-width="0.3" font-family='"Liberation Sans", Arial, sans-serif' font-weight="bold" font-style="normal" font-size="16.70" fill="#000">T<tspan dx="1.98" textLength="8.63" lengthAdjust="spacingAndGlyphs" stroke="none">-</tspan><tspan dx="2.52">C</tspan></text>
<text transform="translate(708.47,2137.66) rotate(-90) scale(0.75,1)" x="0" y="0" stroke="#000" stroke-width="0.3" font-family='"Liberation Sans", Arial, sans-serif' font-weight="bold" font-style="normal" font-size="16.70" fill="#000">T<tspan dx="1.98" textLength="8.63" lengthAdjust="spacingAndGlyphs" stroke="none">-</tspan><tspan dx="2.52">G</tspan></text>
<text transform="translate(723.75,2137.66) rotate(-90) scale(0.75,1)" x="0" y="0" stroke="#000" stroke-width="0.3" font-family='"Liberation Sans", Arial, sans-serif' font-weight="bold" font-style="normal" font-size="16.70" fill="#000">T<tspan dx="1.98" textLength="8.63" lengthAdjust="spacingAndGlyphs" stroke="none">-</tspan><tspan dx="2.52">T</tspan></text>
<text transform="translate(754.32,2137.81) rotate(-90) scale(0.75,1)" x="0" y="0" stroke="#000" stroke-width="0.3" font-family='"Liberation Sans", Arial, sans-serif' font-weight="bold" font-style="normal" font-size="16.70" fill="#000">A<tspan dx="1.98" textLength="8.63" lengthAdjust="spacingAndGlyphs" stroke="none">-</tspan><tspan dx="2.52">A</tspan></text>
<text transform="translate(769.60,2137.81) rotate(-90) scale(0.75,1)" x="0" y="0" stroke="#000" stroke-width="0.3" font-family='"Liberation Sans", Arial, sans-serif' font-weight="bold" font-style="normal" font-size="16.70" fill="#000">A<tspan dx="1.98" textLength="8.63" lengthAdjust="spacingAndGlyphs" stroke="none">-</tspan><tspan dx="2.52">C</tspan></text>
<text transform="translate(784.88,2137.81) rotate(-90) scale(0.75,1)" x="0" y="0" stroke="#000" stroke-width="0.3" font-family='"Liberation Sans", Arial, sans-serif' font-weight="bold" font-style="normal" font-size="16.70" fill="#000">A<tspan dx="1.98" textLength="8.63" lengthAdjust="spacingAndGlyphs" stroke="none">-</tspan><tspan dx="2.52">G</tspan></text>
<text transform="translate(800.17,2137.81) rotate(-90) scale(0.75,1)" x="0" y="0" stroke="#000" stroke-width="0.3" font-family='"Liberation Sans", Arial, sans-serif' font-weight="bold" font-style="normal" font-size="16.70" fill="#000">A<tspan dx="1.98" textLength="8.63" lengthAdjust="spacingAndGlyphs" stroke="none">-</tspan><tspan dx="2.52">T</tspan></text>
<text transform="translate(815.45,2138.00) rotate(-90) scale(0.75,1)" x="0" y="0" stroke="#000" stroke-width="0.3" font-family='"Liberation Sans", Arial, sans-serif' font-weight="bold" font-style="normal" font-size="16.70" fill="#000">C<tspan dx="1.98" textLength="8.63" lengthAdjust="spacingAndGlyphs" stroke="none">-</tspan><tspan dx="2.52">A</tspan></text>
<text transform="translate(830.73,2138.00) rotate(-90) scale(0.75,1)" x="0" y="0" stroke="#000" stroke-width="0.3" font-family='"Liberation Sans", Arial, sans-serif' font-weight="bold" font-style="normal" font-size="16.70" fill="#000">C<tspan dx="1.98" textLength="8.63" lengthAdjust="spacingAndGlyphs" stroke="none">-</tspan><tspan dx="2.52">C</tspan></text>
<text transform="translate(846.01,2138.00) rotate(-90) scale(0.75,1)" x="0" y="0" stroke="#000" stroke-width="0.3" font-family='"Liberation Sans", Arial, sans-serif' font-weight="bold" font-style="normal" font-size="16.70" fill="#000">C<tspan dx="1.98" textLength="8.63" lengthAdjust="spacingAndGlyphs" stroke="none">-</tspan><tspan dx="2.52">G</tspan></text>
<text transform="translate(861.30,2138.00) rotate(-90) scale(0.75,1)" x="0" y="0" stroke="#000" stroke-width="0.3" font-family='"Liberation Sans", Arial, sans-serif' font-weight="bold" font-style="normal" font-size="16.70" fill="#000">C<tspan dx="1.98" textLength="8.63" lengthAdjust="spacingAndGlyphs" stroke="none">-</tspan><tspan dx="2.52">T</tspan></text>
<text transform="translate(876.58,2138.00) rotate(-90) scale(0.75,1)" x="0" y="0" stroke="#000" stroke-width="0.3" font-family='"Liberation Sans", Arial, sans-serif' font-weight="bold" font-style="normal" font-size="16.70" fill="#000">G<tspan dx="1.98" textLength="8.63" lengthAdjust="spacingAndGlyphs" stroke="none">-</tspan><tspan dx="2.52">A</tspan></text>
<text transform="translate(891.86,2138.00) rotate(-90) scale(0.75,1)" x="0" y="0" stroke="#000" stroke-width="0.3" font-family='"Liberation Sans", Arial, sans-serif' font-weight="bold" font-style="normal" font-size="16.70" fill="#000">G<tspan dx="1.98" textLength="8.63" lengthAdjust="spacingAndGlyphs" stroke="none">-</tspan><tspan dx="2.52">C</tspan></text>
<text transform="translate(907.15,2138.00) rotate(-90) scale(0.75,1)" x="0" y="0" stroke="#000" stroke-width="0.3" font-family='"Liberation Sans", Arial, sans-serif' font-weight="bold" font-style="normal" font-size="16.70" fill="#000">G<tspan dx="1.98" textLength="8.63" lengthAdjust="spacingAndGlyphs" stroke="none">-</tspan><tspan dx="2.52">G</tspan></text>
<text transform="translate(922.43,2138.00) rotate(-90) scale(0.75,1)" x="0" y="0" stroke="#000" stroke-width="0.3" font-family='"Liberation Sans", Arial, sans-serif' font-weight="bold" font-style="normal" font-size="16.70" fill="#000">G<tspan dx="1.98" textLength="8.63" lengthAdjust="spacingAndGlyphs" stroke="none">-</tspan><tspan dx="2.52">T</tspan></text>
<text transform="translate(937.71,2137.66) rotate(-90) scale(0.75,1)" x="0" y="0" stroke="#000" stroke-width="0.3" font-family='"Liberation Sans", Arial, sans-serif' font-weight="bold" font-style="normal" font-size="16.70" fill="#000">T<tspan dx="1.98" textLength="8.63" lengthAdjust="spacingAndGlyphs" stroke="none">-</tspan><tspan dx="2.52">A</tspan></text>
<text transform="translate(953.00,2137.66) rotate(-90) scale(0.75,1)" x="0" y="0" stroke="#000" stroke-width="0.3" font-family='"Liberation Sans", Arial, sans-serif' font-weight="bold" font-style="normal" font-size="16.70" fill="#000">T<tspan dx="1.98" textLength="8.63" lengthAdjust="spacingAndGlyphs" stroke="none">-</tspan><tspan dx="2.52">C</tspan></text>
<text transform="translate(968.28,2137.66) rotate(-90) scale(0.75,1)" x="0" y="0" stroke="#000" stroke-width="0.3" font-family='"Liberation Sans", Arial, sans-serif' font-weight="bold" font-style="normal" font-size="16.70" fill="#000">T<tspan dx="1.98" textLength="8.63" lengthAdjust="spacingAndGlyphs" stroke="none">-</tspan><tspan dx="2.52">G</tspan></text>
<text transform="translate(983.56,2137.66) rotate(-90) scale(0.75,1)" x="0" y="0" stroke="#000" stroke-width="0.3" font-family='"Liberation Sans", Arial, sans-serif' font-weight="bold" font-style="normal" font-size="16.70" fill="#000">T<tspan dx="1.98" textLength="8.63" lengthAdjust="spacingAndGlyphs" stroke="none">-</tspan><tspan dx="2.52">T</tspan></text>
<text transform="translate(1014.13,2137.81) rotate(-90) scale(0.75,1)" x="0" y="0" stroke="#000" stroke-width="0.3" font-family='"Liberation Sans", Arial, sans-serif' font-weight="bold" font-style="normal" font-size="16.70" fill="#000">A<tspan dx="1.98" textLength="8.63" lengthAdjust="spacingAndGlyphs" stroke="none">-</tspan><tspan dx="2.52">A</tspan></text>
<text transform="translate(1029.41,2137.81) rotate(-90) scale(0.75,1)" x="0" y="0" stroke="#000" stroke-width="0.3" font-family='"Liberation Sans", Arial, sans-serif' font-weight="bold" font-style="normal" font-size="16.70" fill="#000">A<tspan dx="1.98" textLength="8.63" lengthAdjust="spacingAndGlyphs" stroke="none">-</tspan><tspan dx="2.52">C</tspan></text>
<text transform="translate(1044.69,2137.81) rotate(-90) scale(0.75,1)" x="0" y="0" stroke="#000" stroke-width="0.3" font-family='"Liberation Sans", Arial, sans-serif' font-weight="bold" font-style="normal" font-size="16.70" fill="#000">A<tspan dx="1.98" textLength="8.63" lengthAdjust="spacingAndGlyphs" stroke="none">-</tspan><tspan dx="2.52">G</tspan></text>
<text transform="translate(1059.98,2137.81) rotate(-90) scale(0.75,1)" x="0" y="0" stroke="#000" stroke-width="0.3" font-family='"Liberation Sans", Arial, sans-serif' font-weight="bold" font-style="normal" font-size="16.70" fill="#000">A<tspan dx="1.98" textLength="8.63" lengthAdjust="spacingAndGlyphs" stroke="none">-</tspan><tspan dx="2.52">T</tspan></text>
<text transform="translate(1075.26,2138.00) rotate(-90) scale(0.75,1)" x="0" y="0" stroke="#000" stroke-width="0.3" font-family='"Liberation Sans", Arial, sans-serif' font-weight="bold" font-style="normal" font-size="16.70" fill="#000">C<tspan dx="1.98" textLength="8.63" lengthAdjust="spacingAndGlyphs" stroke="none">-</tspan><tspan dx="2.52">A</tspan></text>
<text transform="translate(1090.54,2138.00) rotate(-90) scale(0.75,1)" x="0" y="0" stroke="#000" stroke-width="0.3" font-family='"Liberation Sans", Arial, sans-serif' font-weight="bold" font-style="normal" font-size="16.70" fill="#000">C<tspan dx="1.98" textLength="8.63" lengthAdjust="spacingAndGlyphs" stroke="none">-</tspan><tspan dx="2.52">C</tspan></text>
<text transform="translate(1105.83,2138.00) rotate(-90) scale(0.75,1)" x="0" y="0" stroke="#000" stroke-width="0.3" font-family='"Liberation Sans", Arial, sans-serif' font-weight="bold" font-style="normal" font-size="16.70" fill="#000">C<tspan dx="1.98" textLength="8.63" lengthAdjust="spacingAndGlyphs" stroke="none">-</tspan><tspan dx="2.52">G</tspan></text>
<text transform="translate(1121.11,2138.00) rotate(-90) scale(0.75,1)" x="0" y="0" stroke="#000" stroke-width="0.3" font-family='"Liberation Sans", Arial, sans-serif' font-weight="bold" font-style="normal" font-size="16.70" fill="#000">C<tspan dx="1.98" textLength="8.63" lengthAdjust="spacingAndGlyphs" stroke="none">-</tspan><tspan dx="2.52">T</tspan></text>
<text transform="translate(1136.39,2138.00) rotate(-90) scale(0.75,1)" x="0" y="0" stroke="#000" stroke-width="0.3" font-family='"Liberation Sans", Arial, sans-serif' font-weight="bold" font-style="normal" font-size="16.70" fill="#000">G<tspan dx="1.98" textLength="8.63" lengthAdjust="spacingAndGlyphs" stroke="none">-</tspan><tspan dx="2.52">A</tspan></text>
<text transform="translate(1151.67,2138.00) rotate(-90) scale(0.75,1)" x="0" y="0" stroke="#000" stroke-width="0.3" font-family='"Liberation Sans", Arial, sans-serif' font-weight="bold" font-style="normal" font-size="16.70" fill="#000">G<tspan dx="1.98" textLength="8.63" lengthAdjust="spacingAndGlyphs" stroke="none">-</tspan><tspan dx="2.52">C</tspan></text>
<text transform="translate(1166.96,2138.00) rotate(-90) scale(0.75,1)" x="0" y="0" stroke="#000" stroke-width="0.3" font-family='"Liberation Sans", Arial, sans-serif' font-weight="bold" font-style="normal" font-size="16.70" fill="#000">G<tspan dx="1.98" textLength="8.63" lengthAdjust="spacingAndGlyphs" stroke="none">-</tspan><tspan dx="2.52">G</tspan></text>
<text transform="translate(1182.24,2138.00) rotate(-90) scale(0.75,1)" x="0" y="0" stroke="#000" stroke-width="0.3" font-family='"Liberation Sans", Arial, sans-serif' font-weight="bold" font-style="normal" font-size="16.70" fill="#000">G<tspan dx="1.98" textLength="8.63" lengthAdjust="spacingAndGlyphs" stroke="none">-</tspan><tspan dx="2.52">T</tspan></text>
<text transform="translate(1197.52,2137.66) rotate(-90) scale(0.75,1)" x="0" y="0" stroke="#000" stroke-width="0.3" font-family='"Liberation Sans", Arial, sans-serif' font-weight="bold" font-style="normal" font-size="16.70" fill="#000">T<tspan dx="1.98" textLength="8.63" lengthAdjust="spacingAndGlyphs" stroke="none">-</tspan><tspan dx="2.52">A</tspan></text>
<text transform="translate(1212.81,2137.66) rotate(-90) scale(0.75,1)" x="0" y="0" stroke="#000" stroke-width="0.3" font-family='"Liberation Sans", Arial, sans-serif' font-weight="bold" font-style="normal" font-size="16.70" fill="#000">T<tspan dx="1.98" textLength="8.63" lengthAdjust="spacingAndGlyphs" stroke="none">-</tspan><tspan dx="2.52">C</tspan></text>
<text transform="translate(1228.09,2137.66) rotate(-90) scale(0.75,1)" x="0" y="0" stroke="#000" stroke-width="0.3" font-family='"Liberation Sans", Arial, sans-serif' font-weight="bold" font-style="normal" font-size="16.70" fill="#000">T<tspan dx="1.98" textLength="8.63" lengthAdjust="spacingAndGlyphs" stroke="none">-</tspan><tspan dx="2.52">G</tspan></text>
<text transform="translate(1243.37,2137.66) rotate(-90) scale(0.75,1)" x="0" y="0" stroke="#000" stroke-width="0.3" font-family='"Liberation Sans", Arial, sans-serif' font-weight="bold" font-style="normal" font-size="16.70" fill="#000">T<tspan dx="1.98" textLength="8.63" lengthAdjust="spacingAndGlyphs" stroke="none">-</tspan><tspan dx="2.52">T</tspan></text>
<text transform="translate(1273.94,2137.81) rotate(-90) scale(0.75,1)" x="0" y="0" stroke="#000" stroke-width="0.3" font-family='"Liberation Sans", Arial, sans-serif' font-weight="bold" font-style="normal" font-size="16.70" fill="#000">A<tspan dx="1.98" textLength="8.63" lengthAdjust="spacingAndGlyphs" stroke="none">-</tspan><tspan dx="2.52">A</tspan></text>
<text transform="translate(1289.22,2137.81) rotate(-90) scale(0.75,1)" x="0" y="0" stroke="#000" stroke-width="0.3" font-family='"Liberation Sans", Arial, sans-serif' font-weight="bold" font-style="normal" font-size="16.70" fill="#000">A<tspan dx="1.98" textLength="8.63" lengthAdjust="spacingAndGlyphs" stroke="none">-</tspan><tspan dx="2.52">C</tspan></text>
<text transform="translate(1304.50,2137.81) rotate(-90) scale(0.75,1)" x="0" y="0" stroke="#000" stroke-width="0.3" font-family='"Liberation Sans", Arial, sans-serif' font-weight="bold" font-style="normal" font-size="16.70" fill="#000">A<tspan dx="1.98" textLength="8.63" lengthAdjust="spacingAndGlyphs" stroke="none">-</tspan><tspan dx="2.52">G</tspan></text>
<text transform="translate(1319.79,2137.81) rotate(-90) scale(0.75,1)" x="0" y="0" stroke="#000" stroke-width="0.3" font-family='"Liberation Sans", Arial, sans-serif' font-weight="bold" font-style="normal" font-size="16.70" fill="#000">A<tspan dx="1.98" textLength="8.63" lengthAdjust="spacingAndGlyphs" stroke="none">-</tspan><tspan dx="2.52">T</tspan></text>
<text transform="translate(1335.07,2138.00) rotate(-90) scale(0.75,1)" x="0" y="0" stroke="#000" stroke-width="0.3" font-family='"Liberation Sans", Arial, sans-serif' font-weight="bold" font-style="normal" font-size="16.70" fill="#000">C<tspan dx="1.98" textLength="8.63" lengthAdjust="spacingAndGlyphs" stroke="none">-</tspan><tspan dx="2.52">A</tspan></text>
<text transform="translate(1350.35,2138.00) rotate(-90) scale(0.75,1)" x="0" y="0" stroke="#000" stroke-width="0.3" font-family='"Liberation Sans", Arial, sans-serif' font-weight="bold" font-style="normal" font-size="16.70" fill="#000">C<tspan dx="1.98" textLength="8.63" lengthAdjust="spacingAndGlyphs" stroke="none">-</tspan><tspan dx="2.52">C</tspan></text>
<text transform="translate(1365.64,2138.00) rotate(-90) scale(0.75,1)" x="0" y="0" stroke="#000" stroke-width="0.3" font-family='"Liberation Sans", Arial, sans-serif' font-weight="bold" font-style="normal" font-size="16.70" fill="#000">C<tspan dx="1.98" textLength="8.63" lengthAdjust="spacingAndGlyphs" stroke="none">-</tspan><tspan dx="2.52">G</tspan></text>
<text transform="translate(1380.92,2138.00) rotate(-90) scale(0.75,1)" x="0" y="0" stroke="#000" stroke-width="0.3" font-family='"Liberation Sans", Arial, sans-serif' font-weight="bold" font-style="normal" font-size="16.70" fill="#000">C<tspan dx="1.98" textLength="8.63" lengthAdjust="spacingAndGlyphs" stroke="none">-</tspan><tspan dx="2.52">T</tspan></text>
<text transform="translate(1396.20,2138.00) rotate(-90) scale(0.75,1)" x="0" y="0" stroke="#000" stroke-width="0.3" font-family='"Liberation Sans", Arial, sans-serif' font-weight="bold" font-style="normal" font-size="16.70" fill="#000">G<tspan dx="1.98" textLength="8.63" lengthAdjust="spacingAndGlyphs" stroke="none">-</tspan><tspan dx="2.52">A</tspan></text>
<text transform="translate(1411.49,2138.00) rotate(-90) scale(0.75,1)" x="0" y="0" stroke="#000" stroke-width="0.3" font-family='"Liberation Sans", Arial, sans-serif' font-weight="bold" font-style="normal" font-size="16.70" fill="#000">G<tspan dx="1.98" textLength="8.63" lengthAdjust="spacingAndGlyphs" stroke="none">-</tspan><tspan dx="2.52">C</tspan></text>
<text transform="translate(1426.77,2138.00) rotate(-90) scale(0.75,1)" x="0" y="0" stroke="#000" stroke-width="0.3" font-family='"Liberation Sans", Arial, sans-serif' font-weight="bold" font-style="normal" font-size="16.70" fill="#000">G<tspan dx="1.98" textLength="8.63" lengthAdjust="spacingAndGlyphs" stroke="none">-</tspan><tspan dx="2.52">G</tspan></text>
<text transform="translate(1442.05,2138.00) rotate(-90) scale(0.75,1)" x="0" y="0" stroke="#000" stroke-width="0.3" font-family='"Liberation Sans", Arial, sans-serif' font-weight="bold" font-style="normal" font-size="16.70" fill="#000">G<tspan dx="1.98" textLength="8.63" lengthAdjust="spacingAndGlyphs" stroke="none">-</tspan><tspan dx="2.52">T</tspan></text>
<text transform="translate(1457.33,2137.66) rotate(-90) scale(0.75,1)" x="0" y="0" stroke="#000" stroke-width="0.3" font-family='"Liberation Sans", Arial, sans-serif' font-weight="bold" font-style="normal" font-size="16.70" fill="#000">T<tspan dx="1.98" textLength="8.63" lengthAdjust="spacingAndGlyphs" stroke="none">-</tspan><tspan dx="2.52">A</tspan></text>
<text transform="translate(1472.62,2137.66) rotate(-90) scale(0.75,1)" x="0" y="0" stroke="#000" stroke-width="0.3" font-family='"Liberation Sans", Arial, sans-serif' font-weight="bold" font-style="normal" font-size="16.70" fill="#000">T<tspan dx="1.98" textLength="8.63" lengthAdjust="spacingAndGlyphs" stroke="none">-</tspan><tspan dx="2.52">C</tspan></text>
<text transform="translate(1487.90,2137.66) rotate(-90) scale(0.75,1)" x="0" y="0" stroke="#000" stroke-width="0.3" font-family='"Liberation Sans", Arial, sans-serif' font-weight="bold" font-style="normal" font-size="16.70" fill="#000">T<tspan dx="1.98" textLength="8.63" lengthAdjust="spacingAndGlyphs" stroke="none">-</tspan><tspan dx="2.52">G</tspan></text>
<text transform="translate(1503.18,2137.66) rotate(-90) scale(0.75,1)" x="0" y="0" stroke="#000" stroke-width="0.3" font-family='"Liberation Sans", Arial, sans-serif' font-weight="bold" font-style="normal" font-size="16.70" fill="#000">T<tspan dx="1.98" textLength="8.63" lengthAdjust="spacingAndGlyphs" stroke="none">-</tspan><tspan dx="2.52">T</tspan></text>
<text transform="translate(1533.75,2137.81) rotate(-90) scale(0.75,1)" x="0" y="0" stroke="#000" stroke-width="0.3" font-family='"Liberation Sans", Arial, sans-serif' font-weight="bold" font-style="normal" font-size="16.70" fill="#000">A<tspan dx="1.98" textLength="8.63" lengthAdjust="spacingAndGlyphs" stroke="none">-</tspan><tspan dx="2.52">A</tspan></text>
<text transform="translate(1549.03,2137.81) rotate(-90) scale(0.75,1)" x="0" y="0" stroke="#000" stroke-width="0.3" font-family='"Liberation Sans", Arial, sans-serif' font-weight="bold" font-style="normal" font-size="16.70" fill="#000">A<tspan dx="1.98" textLength="8.63" lengthAdjust="spacingAndGlyphs" stroke="none">-</tspan><tspan dx="2.52">C</tspan></text>
<text transform="translate(1564.32,2137.81) rotate(-90) scale(0.75,1)" x="0" y="0" stroke="#000" stroke-width="0.3" font-family='"Liberation Sans", Arial, sans-serif' font-weight="bold" font-style="normal" font-size="16.70" fill="#000">A<tspan dx="1.98" textLength="8.63" lengthAdjust="spacingAndGlyphs" stroke="none">-</tspan><tspan dx="2.52">G</tspan></text>
<text transform="translate(1579.60,2137.81) rotate(-90) scale(0.75,1)" x="0" y="0" stroke="#000" stroke-width="0.3" font-family='"Liberation Sans", Arial, sans-serif' font-weight="bold" font-style="normal" font-size="16.70" fill="#000">A<tspan dx="1.98" textLength="8.63" lengthAdjust="spacingAndGlyphs" stroke="none">-</tspan><tspan dx="2.52">T</tspan></text>
<text transform="translate(1594.88,2138.00) rotate(-90) scale(0.75,1)" x="0" y="0" stroke="#000" stroke-width="0.3" font-family='"Liberation Sans", Arial, sans-serif' font-weight="bold" font-style="normal" font-size="16.70" fill="#000">C<tspan dx="1.98" textLength="8.63" lengthAdjust="spacingAndGlyphs" stroke="none">-</tspan><tspan dx="2.52">A</tspan></text>
<text transform="translate(1610.16,2138.00) rotate(-90) scale(0.75,1)" x="0" y="0" stroke="#000" stroke-width="0.3" font-family='"Liberation Sans", Arial, sans-serif' font-weight="bold" font-style="normal" font-size="16.70" fill="#000">C<tspan dx="1.98" textLength="8.63" lengthAdjust="spacingAndGlyphs" stroke="none">-</tspan><tspan dx="2.52">C</tspan></text>
<text transform="translate(1625.45,2138.00) rotate(-90) scale(0.75,1)" x="0" y="0" stroke="#000" stroke-width="0.3" font-family='"Liberation Sans", Arial, sans-serif' font-weight="bold" font-style="normal" font-size="16.70" fill="#000">C<tspan dx="1.98" textLength="8.63" lengthAdjust="spacingAndGlyphs" stroke="none">-</tspan><tspan dx="2.52">G</tspan></text>
<text transform="translate(1640.73,2138.00) rotate(-90) scale(0.75,1)" x="0" y="0" stroke="#000" stroke-width="0.3" font-family='"Liberation Sans", Arial, sans-serif' font-weight="bold" font-style="normal" font-size="16.70" fill="#000">C<tspan dx="1.98" textLength="8.63" lengthAdjust="spacingAndGlyphs" stroke="none">-</tspan><tspan dx="2.52">T</tspan></text>
<text transform="translate(1656.01,2138.00) rotate(-90) scale(0.75,1)" x="0" y="0" stroke="#000" stroke-width="0.3" font-family='"Liberation Sans", Arial, sans-serif' font-weight="bold" font-style="normal" font-size="16.70" fill="#000">G<tspan dx="1.98" textLength="8.63" lengthAdjust="spacingAndGlyphs" stroke="none">-</tspan><tspan dx="2.52">A</tspan></text>
<text transform="translate(1671.30,2138.00) rotate(-90) scale(0.75,1)" x="0" y="0" stroke="#000" stroke-width="0.3" font-family='"Liberation Sans", Arial, sans-serif' font-weight="bold" font-style="normal" font-size="16.70" fill="#000">G<tspan dx="1.98" textLength="8.63" lengthAdjust="spacingAndGlyphs" stroke="none">-</tspan><tspan dx="2.52">C</tspan></text>
<text transform="translate(1686.58,2138.00) rotate(-90) scale(0.75,1)" x="0" y="0" stroke="#000" stroke-width="0.3" font-family='"Liberation Sans", Arial, sans-serif' font-weight="bold" font-style="normal" font-size="16.70" fill="#000">G<tspan dx="1.98" textLength="8.63" lengthAdjust="spacingAndGlyphs" stroke="none">-</tspan><tspan dx="2.52">G</tspan></text>
<text transform="translate(1701.86,2138.00) rotate(-90) scale(0.75,1)" x="0" y="0" stroke="#000" stroke-width="0.3" font-family='"Liberation Sans", Arial, sans-serif' font-weight="bold" font-style="normal" font-size="16.70" fill="#000">G<tspan dx="1.98" textLength="8.63" lengthAdjust="spacingAndGlyphs" stroke="none">-</tspan><tspan dx="2.52">T</tspan></text>
<text transform="translate(1717.15,2137.66) rotate(-90) scale(0.75,1)" x="0" y="0" stroke="#000" stroke-width="0.3" font-family='"Liberation Sans", Arial, sans-serif' font-weight="bold" font-style="normal" font-size="16.70" fill="#000">T<tspan dx="1.98" textLength="8.63" lengthAdjust="spacingAndGlyphs" stroke="none">-</tspan><tspan dx="2.52">A</tspan></text>
<text transform="translate(1732.43,2137.66) rotate(-90) scale(0.75,1)" x="0" y="0" stroke="#000" stroke-width="0.3" font-family='"Liberation Sans", Arial, sans-serif' font-weight="bold" font-style="normal" font-size="16.70" fill="#000">T<tspan dx="1.98" textLength="8.63" lengthAdjust="spacingAndGlyphs" stroke="none">-</tspan><tspan dx="2.52">C</tspan></text>
<text transform="translate(1747.71,2137.66) rotate(-90) scale(0.75,1)" x="0" y="0" stroke="#000" stroke-width="0.3" font-family='"Liberation Sans", Arial, sans-serif' font-weight="bold" font-style="normal" font-size="16.70" fill="#000">T<tspan dx="1.98" textLength="8.63" lengthAdjust="spacingAndGlyphs" stroke="none">-</tspan><tspan dx="2.52">G</tspan></text>
<text transform="translate(1762.99,2137.66) rotate(-90) scale(0.75,1)" x="0" y="0" stroke="#000" stroke-width="0.3" font-family='"Liberation Sans", Arial, sans-serif' font-weight="bold" font-style="normal" font-size="16.70" fill="#000">T<tspan dx="1.98" textLength="8.63" lengthAdjust="spacingAndGlyphs" stroke="none">-</tspan><tspan dx="2.52">T</tspan></text>
<text x="281.98" y="2213.80" font-family='"Liberation Sans", Arial, sans-serif' font-weight="bold" font-style="normal" font-size="60.80" fill="#4EB3D3">C&gt;A</text>
<text x="540.98" y="2213.80" font-family='"Liberation Sans", Arial, sans-serif' font-weight="bold" font-style="normal" font-size="60.80" fill="#000000">C&gt;G</text>
<text x="804.77" y="2213.80" font-family='"Liberation Sans", Arial, sans-serif' font-weight="bold" font-style="normal" font-size="60.80" fill="#B30000">C&gt;T</text>
<text x="1064.26" y="2213.80" font-family='"Liberation Sans", Arial, sans-serif' font-weight="bold" font-style="normal" font-size="60.80" fill="#BDBDBD">T&gt;A</text>
<text x="1325.06" y="2213.80" font-family='"Liberation Sans", Arial, sans-serif' font-weight="bold" font-style="normal" font-size="60.80" fill="#41AB5D">T&gt;C</text>
<text x="1583.26" y="2213.80" font-family='"Liberation Sans", Arial, sans-serif' font-weight="bold" font-style="normal" font-size="60.80" fill="#DD3497">T&gt;G</text>
</svg>
</body></html>
